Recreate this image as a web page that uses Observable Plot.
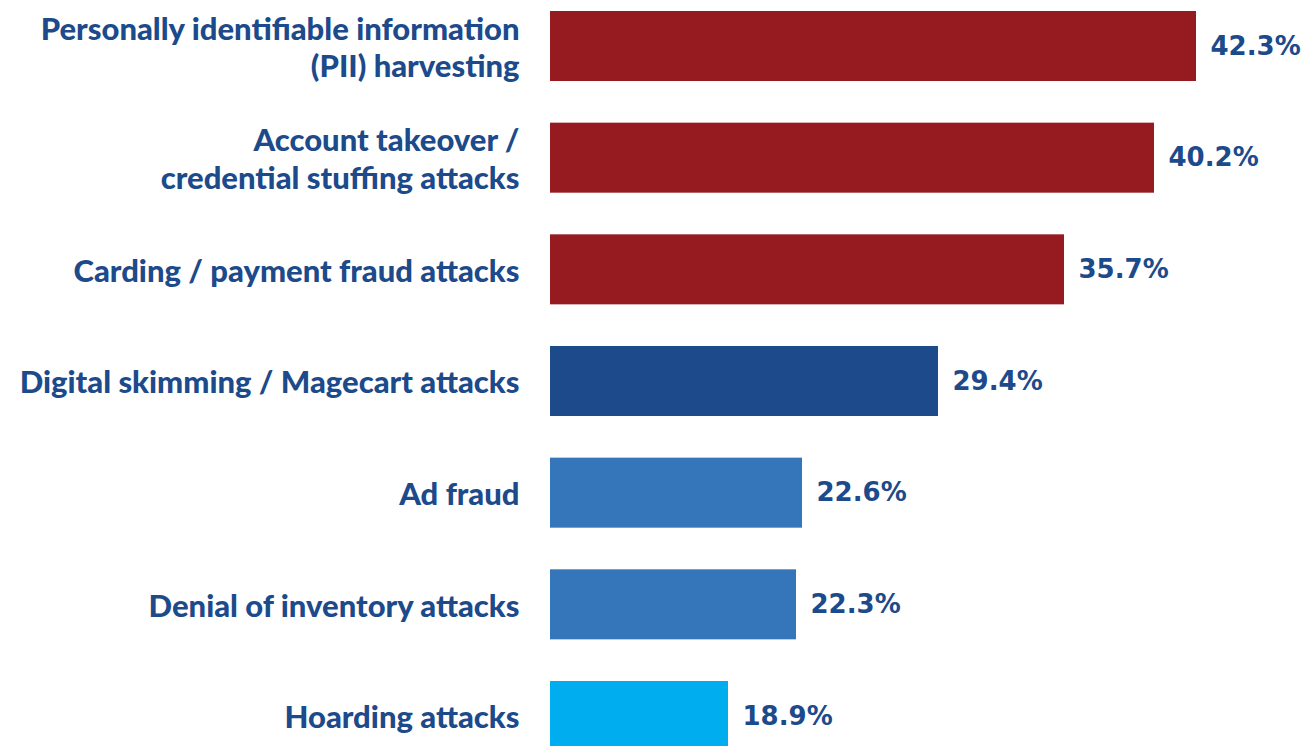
<!DOCTYPE html>
<html>
<head>
<meta charset="utf-8">
<script src="https://cdn.jsdelivr.net/npm/d3@7"></script>
<script src="https://cdn.jsdelivr.net/npm/@observablehq/plot@0.6"></script>
<style>
  html, body { margin: 0; padding: 0; background: #fff; overflow: hidden; }
</style>
</head>
<body>
<div id="chart"></div>
<script>
const categories = [
  "Personally identifiable information\n(PII) harvesting",
  "Account takeover /\ncredential stuffing attacks",
  "Carding / payment fraud attacks",
  "Digital skimming / Magecart attacks",
  "Ad fraud",
  "Denial of inventory attacks",
  "Hoarding attacks"
];
const values = [42.3, 40.2, 35.7, 29.4, 22.6, 22.3, 18.9];
const tiers = ["high", "high", "high", "upper", "middle", "middle", "low"];

const data = categories.map((c, i) => ({ category: c, value: values[i], tier: tiers[i] }));

const textColor = "#1c4a8a";
const base = 10;

const chart = Plot.plot({
  width: 1312,
  height: 751,
  marginLeft: 550,
  marginRight: 10,
  marginTop: 11,
  marginBottom: 0,
  style: { background: "#fff", overflow: "visible" },
  x: { domain: [base, 47.6], axis: null },
  y: { domain: categories, paddingInner: 0.373, paddingOuter: 0, round: false, axis: null },
  color: {
    domain: ["high", "upper", "middle", "low"],
    range: ["#961b20", "#1c4a8a", "#3575ba", "#00aeef"]
  },
  marks: [
    Plot.barX(data, { y: "category", x1: () => base, x2: "value", fill: "tier" }),
    Plot.text(data, {
      y: "category", x: () => base, text: "category",
      dx: -31, textAnchor: "end", lineAnchor: "middle", lineHeight: 1.2,
      fontFamily: "Lato", fontWeight: 900, fontSize: 31, fill: textColor
    }),
    Plot.text(data, {
      y: "category", x: "value", text: d => d.value.toFixed(1) + "%",
      dx: 14, textAnchor: "start",
      fontFamily: "DejaVu Sans", fontWeight: "bold", fontSize: 26, fill: textColor
    })
  ]
});
document.getElementById("chart").appendChild(chart);
</script>
</body>
</html>
